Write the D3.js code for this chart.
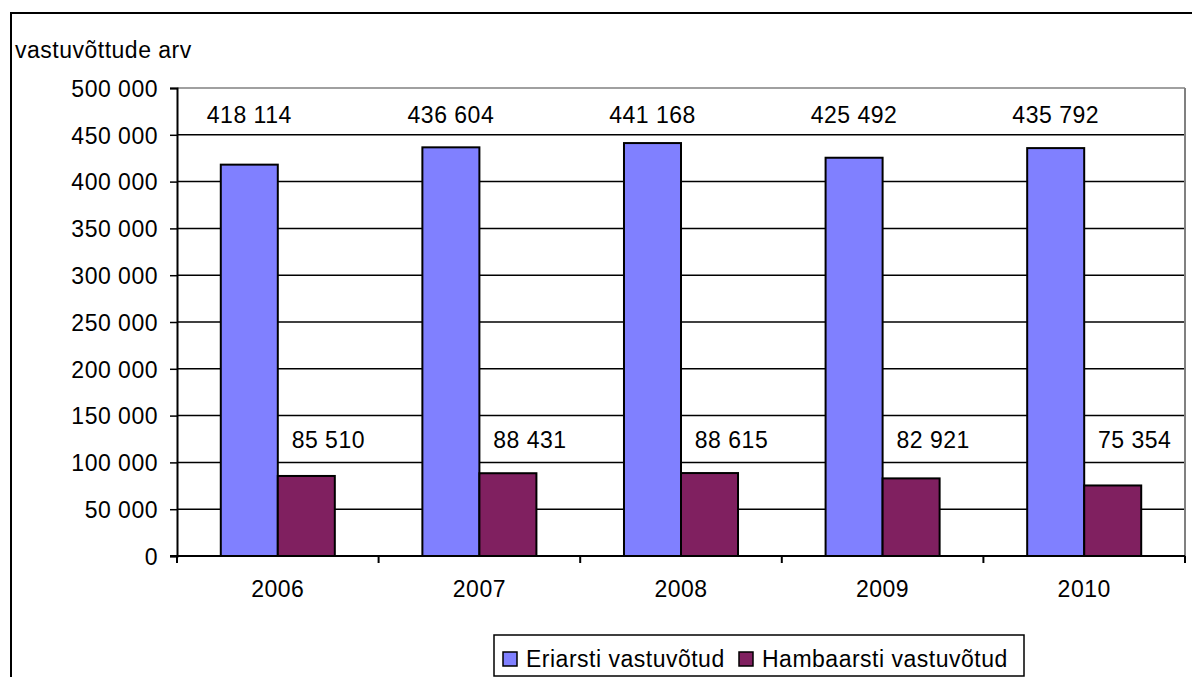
<!DOCTYPE html>
<html>
<head>
<meta charset="utf-8">
<script src="https://cdn.jsdelivr.net/npm/d3@7"></script>
<style>
  body { margin: 0; background: #fff; }
  text { font-family: "Liberation Sans", Arial, sans-serif; font-size: 23px; letter-spacing: 0.5px; fill: #000; }
</style>
</head>
<body>
<div id="chart"></div>
<script>
// data
var years = ['2006', '2007', '2008', '2009', '2010'];
var seriesNames = ['Eriarsti vastuvõtud', 'Hambaarsti vastuvõtud'];
var eriarsti = [418114, 436604, 441168, 425492, 435792];
var hambaarsti = [85510, 88431, 88615, 82921, 75354];
var yTicks = [0, 50000, 100000, 150000, 200000, 250000, 300000, 350000, 400000, 450000, 500000];

var colors = ['#8080ff', '#802060'];
var width = 1192, height = 677;
var plotLeft = 177, plotRight = 1185, plotTop = 88, plotBottom = 556;

var svg = d3.select('#chart').append('svg')
  .attr('width', width)
  .attr('height', height);

// outer frame (right and bottom lie outside the picture)
svg.append('rect')
  .attr('x', 11).attr('y', 13)
  .attr('width', 1300).attr('height', 800)
  .attr('fill', 'none').attr('stroke', '#000').attr('stroke-width', 2);

var x = d3.scaleBand().domain(years).range([plotLeft, plotRight]);
var xs = d3.scaleBand().domain([0, 1]).range([0, x.bandwidth()]).paddingOuter(0.768);
var y = d3.scaleLinear().domain([0, 500000]).range([plotBottom, plotTop]);

var fmt = function (v) { return d3.format(',')(v).replace(/,/g, ' '); };

// grid lines
svg.append('g').selectAll('line')
  .data(yTicks.filter(function (d) { return d > 0; }))
  .enter().append('line')
  .attr('x1', plotLeft).attr('x2', plotRight)
  .attr('y1', function (d) { return y(d); })
  .attr('y2', function (d) { return y(d); })
  .attr('stroke', function (d) { return d === 500000 ? '#808080' : '#000'; })
  .attr('stroke-width', 1.5);

// right border of plot area
svg.append('line')
  .attr('x1', plotRight).attr('x2', plotRight)
  .attr('y1', plotTop).attr('y2', plotBottom)
  .attr('stroke', '#808080').attr('stroke-width', 2);

// bars
var group = svg.append('g').selectAll('g')
  .data(years)
  .enter().append('g')
  .attr('transform', function (d) { return 'translate(' + x(d) + ',0)'; });

group.selectAll('rect')
  .data(function (d, i) { return [eriarsti[i], hambaarsti[i]]; })
  .enter().append('rect')
  .attr('x', function (d, j) { return xs(j); })
  .attr('y', function (d) { return y(d); })
  .attr('width', xs.bandwidth())
  .attr('height', function (d) { return plotBottom - y(d); })
  .attr('fill', function (d, j) { return colors[j]; })
  .attr('stroke', '#000')
  .attr('stroke-width', 2);

// value labels
group.append('text')
  .attr('x', xs(0) + xs.bandwidth() / 2)
  .attr('y', 123)
  .attr('text-anchor', 'middle')
  .text(function (d, i) { return fmt(eriarsti[i]); });

group.append('text')
  .attr('x', xs(1) + xs.bandwidth() / 2 + 22)
  .attr('y', 448)
  .attr('text-anchor', 'middle')
  .text(function (d, i) { return fmt(hambaarsti[i]); });

// y axis
var yAxis = d3.axisLeft(y).tickValues(yTicks).tickSize(7).tickPadding(12)
  .tickFormat(fmt);
var gy = svg.append('g')
  .attr('transform', 'translate(' + plotLeft + ',0)')
  .call(yAxis);
gy.select('.domain').attr('stroke', '#000').attr('stroke-width', 2);
gy.selectAll('.tick line').attr('stroke', '#000').attr('stroke-width', 1.5);
gy.selectAll('.tick text').attr('dy', '0.36em');
gy.attr('font-size', null).attr('font-family', null);

// x axis
svg.append('line')
  .attr('x1', plotLeft - 7).attr('x2', plotRight)
  .attr('y1', plotBottom).attr('y2', plotBottom)
  .attr('stroke', '#000').attr('stroke-width', 2);

svg.append('g').selectAll('line')
  .data(years.concat(['end']))
  .enter().append('line')
  .attr('x1', function (d, i) { return plotLeft + i * x.step(); })
  .attr('x2', function (d, i) { return plotLeft + i * x.step(); })
  .attr('y1', plotBottom).attr('y2', plotBottom + 7)
  .attr('stroke', '#000').attr('stroke-width', 2);

svg.append('g').selectAll('text')
  .data(years)
  .enter().append('text')
  .attr('x', function (d) { return x(d) + x.bandwidth() / 2; })
  .attr('y', 597)
  .attr('text-anchor', 'middle')
  .text(function (d) { return d; });

// axis title
svg.append('text')
  .attr('x', 15).attr('y', 58)
  .text('vastuvõttude arv');

// legend
var legend = svg.append('g');
legend.append('rect')
  .attr('x', 494).attr('y', 635)
  .attr('width', 530).attr('height', 41)
  .attr('fill', '#fff').attr('stroke', '#000').attr('stroke-width', 1.5);

var legendX = [503, 739];
var item = legend.selectAll('g')
  .data(seriesNames)
  .enter().append('g')
  .attr('transform', function (d, i) { return 'translate(' + legendX[i] + ',0)'; });
item.append('rect')
  .attr('x', 0).attr('y', 652)
  .attr('width', 14).attr('height', 14)
  .attr('fill', function (d, i) { return colors[i]; })
  .attr('stroke', '#000').attr('stroke-width', 1.5);
item.append('text')
  .attr('x', 23).attr('y', 667)
  .text(function (d) { return d; });
</script>
</body>
</html>
